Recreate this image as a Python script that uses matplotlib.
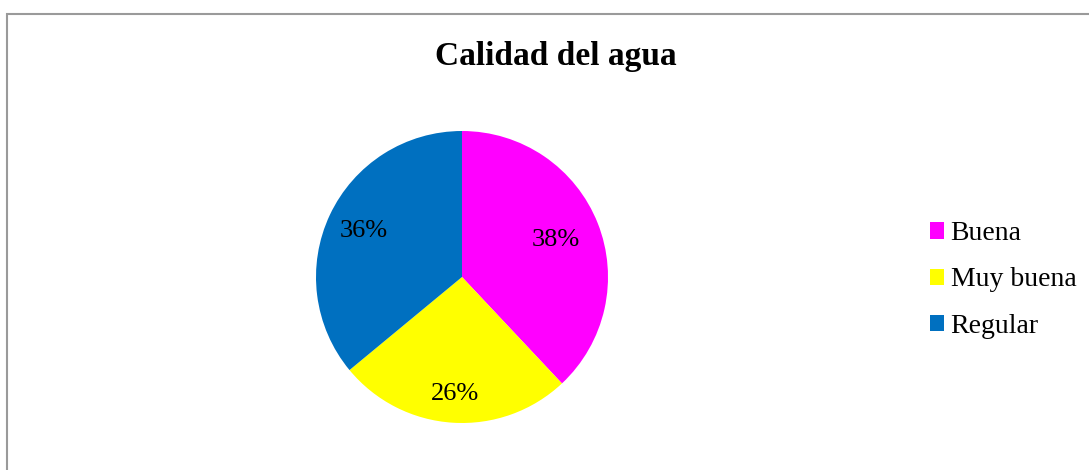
import numpy as np
import matplotlib
matplotlib.use("Agg")
import matplotlib.pyplot as plt
from matplotlib.patches import Rectangle, Patch

plt.rcParams['font.family'] = ['Liberation Serif', 'DejaVu Serif']

categories = ["Buena", "Muy buena", "Regular"]
values = [38, 26, 36]
colors = ["#FF00FF", "#FFFF00", "#0070C0"]
label_radius = [0.69, 0.80, 0.745]

fig = plt.figure(figsize=(10.89, 4.70), dpi=100)
fig.patch.set_facecolor("white")

# chart-area border (runs off the right and bottom edges)
W, H = 1089, 470
fig.patches.append(Rectangle((7 / W, -0.1), 1.2, (H - 13.5) / H + 0.1,
                             transform=fig.transFigure, fill=False,
                             edgecolor="#9a9a9a", linewidth=1.5))

# pie axes: center (462, 277), radius 146 px
cx, cy, r = 462, 277, 146
ax = fig.add_axes([(cx - r) / W, (H - cy - r) / H, 2 * r / W, 2 * r / H])
wedges, _ = ax.pie(values, colors=colors, startangle=90, counterclock=False,
                   radius=1.0, wedgeprops=dict(linewidth=0))
ax.set_xlim(-1, 1)
ax.set_ylim(-1, 1)
ax.set_aspect("auto")
ax.axis("off")

total = sum(values)
for w, v, lr in zip(wedges, values, label_radius):
    mid = np.deg2rad((w.theta1 + w.theta2) / 2)
    ax.text(lr * np.cos(mid), lr * np.sin(mid), f"{round(100 * v / total)}%",
            ha="center", va="center", fontsize=19, color="black")

fig.text(556 / W, 1 - 56 / H, "Calidad del agua", ha="center", va="center",
         fontsize=24, fontweight="bold")

handles = [Patch(facecolor=c, edgecolor="none") for c in colors]
leg = fig.legend(handles, categories, loc="center left",
                 bbox_to_anchor=(930 / W, 1 - 280 / H), frameon=False,
                 fontsize=20, handlelength=0.52, handleheight=0.52,
                 handletextpad=0.22, labelspacing=0.76, borderpad=0,
                 borderaxespad=0)

fig.savefig("out.png", dpi=100, facecolor="white")
